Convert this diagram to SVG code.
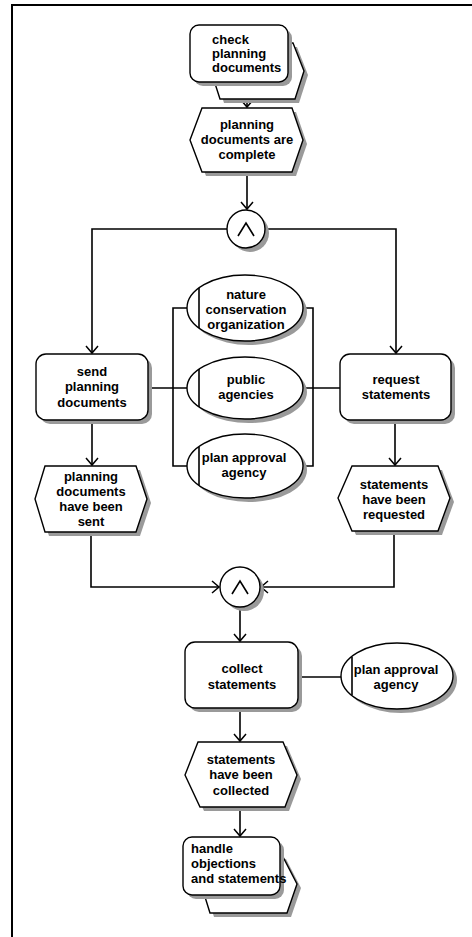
<svg xmlns="http://www.w3.org/2000/svg" width="472" height="937" viewBox="0 0 472 937">
<defs>
<marker id="arr" markerUnits="userSpaceOnUse" markerWidth="16" markerHeight="16" refX="0" refY="0" viewBox="-9 -8 10 16" orient="auto">
<path d="M-7,-6 L0,0 L-7,6" fill="none" stroke="#000" stroke-width="1.5"/>
</marker>
<style>
.sh{fill:#9a9a9a;stroke:none}
.nd{fill:#fff;stroke:#000;stroke-width:1.4}
.t{font-family:"Liberation Sans",Arial,Helvetica,sans-serif;font-weight:bold;font-size:13px;fill:#000}
.c{text-anchor:middle}
.ln{fill:none;stroke:#000;stroke-width:1.6}
.fr{fill:none;stroke:#000;stroke-width:2}
</style>
</defs>
<rect width="472" height="937" fill="#fff"/>
<path class="fr" d="M12,937 L12,5 L472,5"/>

<g id="connectors">
<path class="ln" d="M247,99 L247,107" marker-end="url(#arr)"/>
<path class="ln" d="M247,172 L247,209" marker-end="url(#arr)"/>
<path class="ln" d="M227,229 L92,229 L92,353" marker-end="url(#arr)"/>
<path class="ln" d="M265,229 L396,229 L396,353" marker-end="url(#arr)"/>
<path class="ln" d="M92,420 L92,465" marker-end="url(#arr)"/>
<path class="ln" d="M395,420 L395,465" marker-end="url(#arr)"/>
<path class="ln" d="M91,532 L91,587 L219,587" marker-end="url(#arr)"/>
<path class="ln" d="M394,531 L394,587 L261,587" marker-end="url(#arr)"/>
<path class="ln" d="M240,607 L240,641" marker-end="url(#arr)"/>
<path class="ln" d="M240,708 L240,741" marker-end="url(#arr)"/>
<path class="ln" d="M240,807 L240,836" marker-end="url(#arr)"/>
<path class="ln" d="M148,388 L187,388"/>
<path class="ln" d="M188,308 L173,308 L173,466 L188,466"/>
<path class="ln" d="M302,308 L313,308 L313,466 L302,466"/>
<path class="ln" d="M303,388 L340,388"/>
<path class="ln" d="M298,677 L341,677"/>
</g>

<g id="check-planning-documents">
<polygon class="sh" points="215,75 224,47 297,47 308,75 299,103 224,103"/>
<polygon class="nd" points="211,71 220,43 293,43 304,71 295,99 220,99"/>
<rect class="sh" x="194" y="29" width="98" height="57" rx="9"/>
<rect class="nd" x="190" y="25" width="98" height="57" rx="9"/>
<text class="t" x="212" y="44">check</text>
<text class="t" x="212" y="58">planning</text>
<text class="t" x="212" y="72">documents</text>
</g>

<g id="planning-documents-are-complete">
<polygon class="sh" points="194,144 206,112 296,112 307,144 296,176 206,176"/>
<polygon class="nd" points="190,140 202,108 292,108 303,140 292,172 202,172"/>
<text class="t c" x="247" y="129">planning</text>
<text class="t c" x="247" y="144">documents are</text>
<text class="t c" x="247" y="159">complete</text>
</g>

<g id="and-gate-1">
<circle class="sh" cx="250" cy="233" r="19"/>
<circle class="nd" cx="246" cy="229" r="19"/>
<polyline class="ln" points="238,236 246,223 254,236"/>
</g>

<g id="send-planning-documents">
<rect class="sh" x="40" y="358" width="112" height="66" rx="10"/>
<rect class="nd" x="36" y="354" width="112" height="66" rx="10"/>
<text class="t c" x="92" y="376">send</text>
<text class="t c" x="92" y="391">planning</text>
<text class="t c" x="92" y="407">documents</text>
</g>

<g id="request-statements">
<rect class="sh" x="344" y="358" width="111" height="66" rx="10"/>
<rect class="nd" x="340" y="354" width="111" height="66" rx="10"/>
<text class="t c" x="396" y="384">request</text>
<text class="t c" x="396" y="399">statements</text>
</g>

<g id="nature-conservation-organization">
<ellipse class="sh" cx="249" cy="312" rx="58" ry="33"/>
<ellipse class="nd" cx="245" cy="308" rx="58" ry="33"/>
<line class="ln" x1="199" y1="288" x2="199" y2="328" stroke-width="1.2"/>
<text class="t c" x="246" y="299">nature</text>
<text class="t c" x="246" y="314">conservation</text>
<text class="t c" x="246" y="329">organization</text>
</g>

<g id="public-agencies">
<ellipse class="sh" cx="249" cy="392" rx="58" ry="31"/>
<ellipse class="nd" cx="245" cy="388" rx="58" ry="31"/>
<line class="ln" x1="199" y1="369" x2="199" y2="407" stroke-width="1.2"/>
<text class="t c" x="246" y="384">public</text>
<text class="t c" x="246" y="399">agencies</text>
</g>

<g id="plan-approval-agency-1">
<ellipse class="sh" cx="249" cy="470" rx="58" ry="32"/>
<ellipse class="nd" cx="245" cy="466" rx="58" ry="32"/>
<line class="ln" x1="199" y1="447" x2="199" y2="485" stroke-width="1.2"/>
<text class="t c" x="244" y="462">plan approval</text>
<text class="t c" x="244" y="477">agency</text>
</g>

<g id="planning-documents-have-been-sent">
<polygon class="sh" points="39,503 49,470 140,470 151,503 140,536 49,536"/>
<polygon class="nd" points="35,499 45,466 136,466 147,499 136,532 45,532"/>
<text class="t c" x="91" y="481">planning</text>
<text class="t c" x="91" y="496">documents</text>
<text class="t c" x="91" y="511">have been</text>
<text class="t c" x="91" y="526">sent</text>
</g>

<g id="statements-have-been-requested">
<polygon class="sh" points="342,502 356,470 442,470 454,502 442,535 356,535"/>
<polygon class="nd" points="338,498 352,466 438,466 450,498 438,531 352,531"/>
<text class="t c" x="394" y="489">statements</text>
<text class="t c" x="394" y="504">have been</text>
<text class="t c" x="394" y="519">requested</text>
</g>

<g id="and-gate-2">
<circle class="sh" cx="244" cy="591" r="20"/>
<circle class="nd" cx="240" cy="587" r="20"/>
<polyline class="ln" points="232,594 240,581 248,594"/>
</g>

<g id="collect-statements">
<rect class="sh" x="189" y="646" width="113" height="66" rx="10"/>
<rect class="nd" x="185" y="642" width="113" height="66" rx="10"/>
<text class="t c" x="242" y="673">collect</text>
<text class="t c" x="242" y="689">statements</text>
</g>

<g id="plan-approval-agency-2">
<ellipse class="sh" cx="401" cy="680" rx="56" ry="33"/>
<ellipse class="nd" cx="397" cy="676" rx="56" ry="33"/>
<line class="ln" x1="352" y1="657" x2="352" y2="695" stroke-width="1.2"/>
<text class="t c" x="396" y="674">plan approval</text>
<text class="t c" x="396" y="689">agency</text>
</g>

<g id="statements-have-been-collected">
<polygon class="sh" points="189,779 202,746 287,746 301,779 289,811 204,811"/>
<polygon class="nd" points="185,775 198,742 283,742 297,775 285,807 200,807"/>
<text class="t c" x="241" y="764">statements</text>
<text class="t c" x="241" y="779">have been</text>
<text class="t c" x="241" y="795">collected</text>
</g>

<g id="handle-objections-and-statements">
<polygon class="sh" points="205,888 214,859 286,859 301,888 291,917 214,917"/>
<polygon class="nd" points="201,884 210,855 282,855 297,884 287,913 210,913"/>
<rect class="sh" x="187" y="841" width="97" height="58" rx="9"/>
<rect class="nd" x="183" y="837" width="97" height="58" rx="9"/>
<text class="t" x="191" y="853">handle</text>
<text class="t" x="191" y="868">objections</text>
<text class="t" x="191" y="883">and statements</text>
</g>
</svg>
